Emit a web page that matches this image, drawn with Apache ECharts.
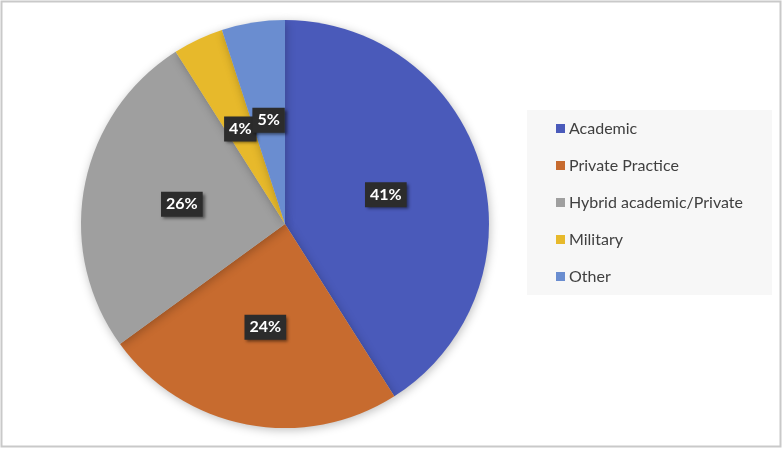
<!DOCTYPE html>
<html><head><meta charset="utf-8">
<script src="https://cdn.jsdelivr.net/npm/echarts@6/dist/echarts.min.js"></script>
<style>html,body{margin:0;padding:0;background:#fff}#c{width:784px;height:450px}</style>
</head><body><div id="c"></div>
<script>
const categories = ['Academic', 'Private Practice', 'Hybrid academic/Private', 'Military', 'Other'];
const values = [41, 24, 26, 4, 5];
const colors = ['#4A5ABA', '#C76B2F', '#9F9F9F', '#E7B92B', '#6A8DD0'];

const chart = echarts.init(document.getElementById('c'), null, {renderer: 'canvas'});
chart.setOption({
  animation: false,
  backgroundColor: '#fff',
  graphic: [
    {type: 'rect', shape: {x: 1.5, y: 1.5, width: 779, height: 445}, style: {fill: 'none', stroke: '#c9c9c9', lineWidth: 2}, z: 0},
    {type: 'rect', shape: {x: 527, y: 110, width: 245, height: 185}, style: {fill: '#f7f7f7', stroke: 'none'}, z: 0}
  ],
  legend: {
    orient: 'vertical',
    left: 551,
    top: 115,
    itemGap: 20,
    itemWidth: 9,
    itemHeight: 9,
    icon: 'rect',
    data: categories,
    textStyle: {fontFamily: 'Lato', fontSize: 16, lineHeight: 17, color: '#404040', padding: [0, 0, 0, -1]}
  },
  series: [{
    type: 'pie',
    center: [285, 224],
    radius: [0, 204],
    startAngle: 90,
    clockwise: true,
    data: categories.map((c, i) => ({name: c, value: values[i], itemStyle: {color: colors[i]}})),
    itemStyle: {shadowBlur: 10, shadowColor: 'rgba(0,0,0,0.25)', shadowOffsetX: 1, shadowOffsetY: 2},
    avoidLabelOverlap: false,
    labelLayout: {hideOverlap: false},
    label: {
      position: 'inside',
      formatter: p => p.value + '%',
      fontFamily: 'Lato',
      fontWeight: 'bold',
      fontSize: 16,
      color: '#fff',
      backgroundColor: '#2c2c2c',
      padding: [5, 5, 4, 5],
      shadowBlur: 3,
      shadowColor: 'rgba(0,0,0,0.5)',
      shadowOffsetX: 2,
      shadowOffsetY: 2
    },
    labelLine: {show: false},
    emphasis: {disabled: true}
  }]
});
</script></body></html>
